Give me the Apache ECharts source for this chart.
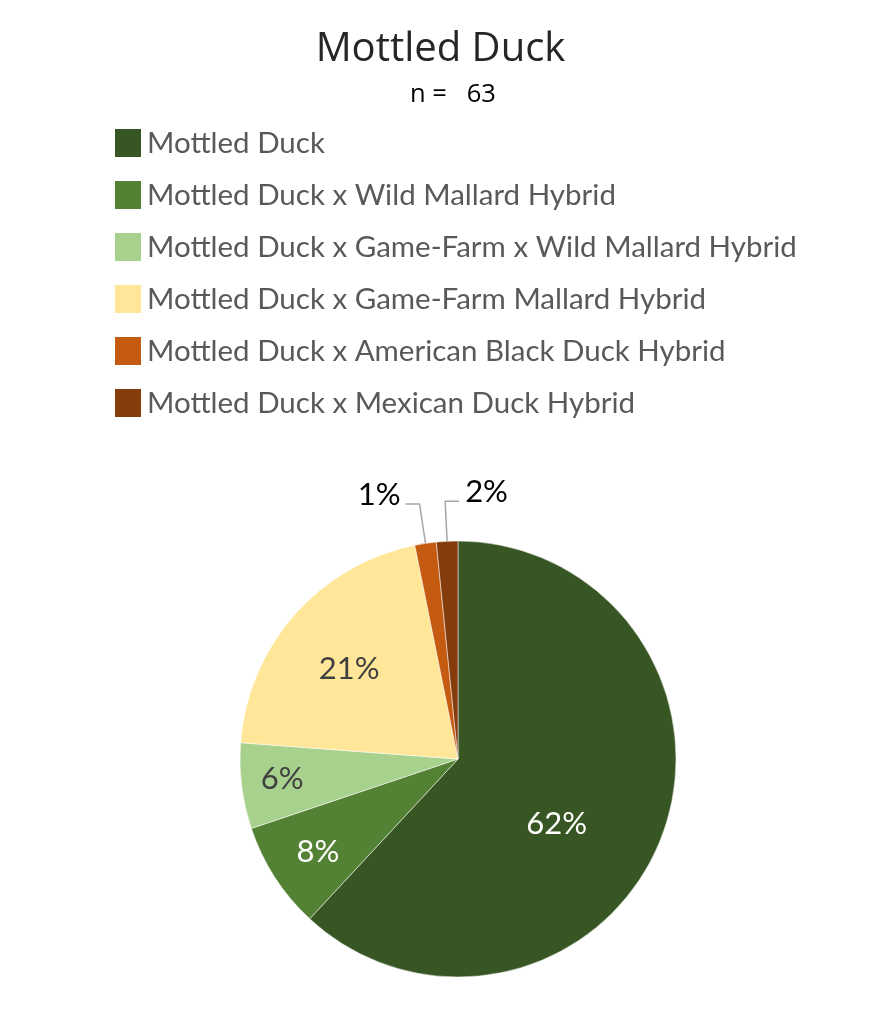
<!DOCTYPE html>
<html>
<head>
<meta charset="utf-8">
<script src="https://cdn.jsdelivr.net/npm/echarts@6/dist/echarts.min.js"></script>
<style>html,body{margin:0;padding:0;background:#fff;}#c{width:881px;height:1029px;}</style>
</head>
<body>
<div id="c"></div>
<script>
var categories = [
  'Mottled Duck',
  'Mottled Duck x Wild Mallard Hybrid',
  'Mottled Duck x Game-Farm x Wild Mallard Hybrid',
  'Mottled Duck x Game-Farm Mallard Hybrid',
  'Mottled Duck x American Black Duck Hybrid',
  'Mottled Duck x Mexican Duck Hybrid'
];
var counts = [39, 5, 4, 13, 1, 1];
var percentLabels = ['62%', '8%', '6%', '21%', '1%', '2%'];
var sampleSize = 63;

var colors = ['#375623', '#548235', '#A9D18E', '#FFE699', '#C55A11', '#843C0C'];
var labelColors = ['#ffffff', '#ffffff', '#404040', '#404040', '#000000', '#000000'];
var outside = [false, false, false, false, true, true];
// label placement style (inside labels): distance from centre (px) and angular shift (deg)
var labelDist = [118, 168, 177, 141, 0, 0];
var labelShift = [11.9, -0.7, 0.6, -1.9, 0, 0];

var CX = 458, CY = 759, R = 218;

var chart = echarts.init(document.getElementById('c'));
var data = categories.map(function (name, i) {
  return {
    name: name,
    value: counts[i],
    itemStyle: { color: colors[i] },
    label: {
      position: outside[i] ? 'outside' : 'inside',
      color: labelColors[i]
    },
    labelLine: { show: outside[i] }
  };
});

chart.setOption({
  animation: false,
  title: [{
    text: 'Mottled Duck',
    left: 'center',
    top: 25,
    textStyle: { fontFamily: 'Open Sans', fontSize: 40, fontWeight: 'normal', color: '#262626' }
  }, {
    text: 'n =   ' + sampleSize,
    left: 405,
    top: 77,
    textStyle: { fontFamily: 'Open Sans', fontSize: 25.5, fontWeight: 'normal', color: '#000000' }
  }],
  legend: {
    orient: 'vertical',
    left: 113,
    top: 127,
    padding: 0,
    icon: 'rect',
    itemWidth: 28,
    itemHeight: 30,
    itemGap: 20,
    selectedMode: false,
    textStyle: { fontFamily: 'Lato', fontSize: 29.5, lineHeight: 30, color: '#595959' },
    data: categories
  },
  series: [{
    type: 'pie',
    center: [CX, CY],
    radius: R,
    startAngle: 90,
    clockwise: true,
    avoidLabelOverlap: false,
    itemStyle: { borderColor: '#ffffff', borderWidth: 0.5 },
    label: {
      show: true,
      fontFamily: 'Lato',
      fontSize: 31,
      formatter: function (p) { return percentLabels[p.dataIndex]; }
    },
    labelLine: { show: true, length: 40, length2: 14, lineStyle: { color: '#A6A6A6', width: 1.5 } },
    labelLayout: function (p) {
      var i = p.dataIndex;
      var r = p.labelRect;
      if (!outside[i]) {
        var lx = r.x + r.width / 2, ly = r.y + r.height / 2;
        var th = Math.atan2(lx - CX, -(ly - CY)) + labelShift[i] * Math.PI / 180;
        return {
          x: CX + labelDist[i] * Math.sin(th),
          y: CY - labelDist[i] * Math.cos(th),
          align: 'center', verticalAlign: 'middle'
        };
      }
      if (p.labelLinePoints) {
        var pts = p.labelLinePoints.map(function (q) { return [q[0], q[1]]; });
        var x1 = pts[1][0];
        if (i === 5) {
          pts[2][0] = x1 + Math.abs(x1 - pts[2][0]);
          return { x: pts[2][0] + 6, y: pts[2][1] - 9, align: 'left', verticalAlign: 'middle', labelLinePoints: pts };
        }
        pts[2][0] = x1 - Math.abs(x1 - pts[2][0]);
        return { x: pts[2][0] - 5, y: pts[2][1] - 9, align: 'right', verticalAlign: 'middle', labelLinePoints: pts };
      }
      return {};
    },
    data: data
  }]
});
</script>
</body>
</html>
